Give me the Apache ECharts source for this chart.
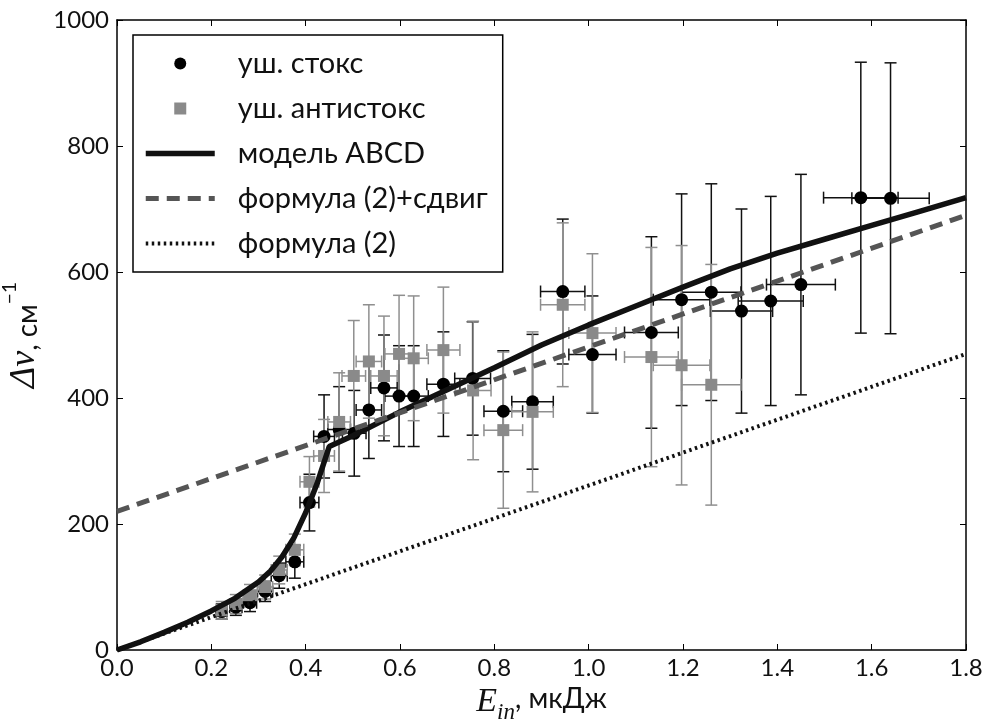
<!DOCTYPE html>
<html>
<head>
<meta charset="utf-8">
<script src="https://cdn.jsdelivr.net/npm/echarts@6/dist/echarts.min.js"></script>
<style>
  html, body { margin: 0; padding: 0; background: #fff; }
  #chart { width: 985px; height: 724px; }
</style>
</head>
<body>
<div id="chart"></div>
<script>
// уш. стокс (black circles)
var stokesX = [0.222, 0.252, 0.282, 0.314, 0.344, 0.377, 0.408, 0.439, 0.471, 0.503, 0.534, 0.566, 0.598, 0.629, 0.692, 0.754, 0.819, 0.881, 0.945, 1.008, 1.133, 1.197, 1.26, 1.324, 1.386, 1.45, 1.577, 1.64];
var stokesY = [61, 68, 75, 93, 118, 140, 234, 339, 350, 344, 381, 416, 403, 403, 422, 431, 379, 394, 569, 469, 504, 556, 568, 538, 554, 580, 718, 717];
var stokesXErr = [0.011, 0.013, 0.014, 0.016, 0.017, 0.019, 0.02, 0.022, 0.024, 0.025, 0.027, 0.028, 0.03, 0.031, 0.035, 0.038, 0.041, 0.044, 0.047, 0.05, 0.057, 0.06, 0.063, 0.066, 0.069, 0.073, 0.079, 0.082];
var stokesYErr = [12, 13, 14, 16, 20, 26, 45, 66, 68, 68, 77, 84, 80, 80, 83, 90, 96, 107, 115, 93, 152, 168, 172, 162, 166, 175, 215, 215];

// уш. антистокс (gray squares)
var antiX = [0.222, 0.252, 0.282, 0.314, 0.344, 0.377, 0.408, 0.439, 0.471, 0.502, 0.534, 0.566, 0.598, 0.629, 0.692, 0.755, 0.819, 0.881, 0.945, 1.008, 1.133, 1.197, 1.26];
var antiY = [63, 73, 87, 100, 127, 159, 267, 308, 362, 435, 458, 435, 470, 463, 476, 412, 349, 378, 548, 503, 465, 452, 421];
var antiXErr = [0.011, 0.013, 0.014, 0.016, 0.017, 0.019, 0.02, 0.022, 0.024, 0.025, 0.027, 0.028, 0.03, 0.031, 0.035, 0.038, 0.041, 0.044, 0.047, 0.05, 0.057, 0.06, 0.063];
var antiYErr = [14, 15, 17, 19, 22, 25, 40, 58, 78, 88, 90, 95, 93, 99, 100, 110, 124, 127, 130, 126, 174, 190, 191];

// модель ABCD
var modelX = [0, 0.05, 0.1, 0.15, 0.2, 0.25, 0.3, 0.325, 0.35, 0.375, 0.4, 0.425, 0.45, 0.5, 0.6, 0.7, 0.8, 0.9, 1.0, 1.1, 1.2, 1.3, 1.4, 1.5, 1.6, 1.7, 1.8];
var modelY = [0, 13, 28, 44, 62, 82, 108, 125, 148, 178, 218, 266, 323, 340, 378, 413, 448, 484, 516, 546, 576, 605, 630, 652, 674, 696, 718];

// формула (2)+сдвиг
var shiftX = [0, 1.8];
var shiftY = [220, 690];

// формула (2)
var formX = [0, 1.8];
var formY = [0, 470];

var FONT = 'Lato, "Noto Sans", sans-serif';
var SERIF = '"Liberation Serif", "DejaVu Serif", serif';

function zip2(xs, ys) { return xs.map(function (x, i) { return [x, ys[i]]; }); }
function zip4(xs, ys, xe, ye) { return xs.map(function (x, i) { return [x, ys[i], xe[i], ye[i]]; }); }

function errorBars(color) {
  return function (params, api) {
    var x = api.value(0), y = api.value(1), dx = api.value(2), dy = api.value(3);
    var top = api.coord([x, y + dy]), bot = api.coord([x, y - dy]);
    var lft = api.coord([x - dx, y]), rgt = api.coord([x + dx, y]);
    var c = 6;
    var st = { stroke: color, lineWidth: 1.5 };
    var seg = function (x1, y1, x2, y2) {
      return { type: 'line', shape: { x1: x1, y1: y1, x2: x2, y2: y2 }, style: st };
    };
    return {
      type: 'group',
      children: [
        seg(top[0], top[1], bot[0], bot[1]),
        seg(top[0] - c, top[1], top[0] + c, top[1]),
        seg(bot[0] - c, bot[1], bot[0] + c, bot[1]),
        seg(lft[0], lft[1], rgt[0], rgt[1]),
        seg(lft[0], lft[1] - c, lft[0], lft[1] + c),
        seg(rgt[0], rgt[1] - c, rgt[0], rgt[1] + c)
      ]
    };
  };
}

var chart = echarts.init(document.getElementById('chart'));
var frameAxis = {
  axisLine: { show: true, onZero: false, lineStyle: { color: '#000', width: 1.5 } },
  axisTick: { show: true, inside: true, length: 6, lineStyle: { color: '#000', width: 1 } },
  splitLine: { show: false }
};
var hideDot = { opacity: 0 };

chart.setOption({
  animation: false,
  backgroundColor: '#fff',
  grid: { left: 117, right: 19, top: 20, bottom: 74, outerBoundsMode: 'none' },
  legend: {
    orient: 'vertical',
    left: 133, top: 35,
    padding: [14, 15, 14, 10],
    itemGap: 16,
    itemWidth: 69,
    itemHeight: 12,
    borderColor: '#000',
    borderWidth: 1.5,
    backgroundColor: '#fff',
    selectedMode: false,
    textStyle: { fontFamily: FONT, fontSize: 29, color: '#111', padding: [0, 0, 0, 18] },
    data: [
      { name: 'уш. стокс', icon: 'circle' },
      { name: 'уш. антистокс', icon: 'path://M0,0h10v10h-10z' },
      { name: 'модель ABCD', itemStyle: hideDot, lineStyle: { color: '#111', width: 5.5, type: 'solid' } },
      { name: 'формула (2)+сдвиг', itemStyle: hideDot, lineStyle: { color: '#555', width: 5, type: [13, 8] } },
      { name: 'формула (2)', itemStyle: hideDot, lineStyle: { color: '#111', width: 4, type: [2.5, 3.5] } }
    ]
  },
  xAxis: [
    Object.assign({
      type: 'value', min: 0, max: 1.8, interval: 0.2, position: 'bottom',
      axisLabel: { fontFamily: FONT, fontSize: 24, color: '#111', margin: 6, formatter: function (v) { return v.toFixed(1); } },
      name: '{e|E}{s|in}{t|, мкДж}',
      nameLocation: 'middle', nameGap: 29,
      nameTextStyle: {
        rich: {
          e: { fontFamily: SERIF, fontStyle: 'italic', fontSize: 34, color: '#111', verticalAlign: 'top', lineHeight: 32 },
          s: { fontFamily: SERIF, fontStyle: 'italic', fontSize: 23, color: '#111', verticalAlign: 'bottom', lineHeight: 40 },
          t: { fontFamily: FONT, fontSize: 28, color: '#111', verticalAlign: 'top', lineHeight: 32 }
        }
      }
    }, frameAxis),
    Object.assign({
      type: 'value', min: 0, max: 1.8, interval: 0.2, position: 'top',
      axisLabel: { show: false }
    }, frameAxis)
  ],
  yAxis: [
    Object.assign({
      type: 'value', min: 0, max: 1000, interval: 200, position: 'left',
      axisLabel: { fontFamily: FONT, fontSize: 24, color: '#111', margin: 8, formatter: function (v) { return String(v); } },
      name: '{d|Δν}{t|, см}{p|−1}',
      nameLocation: 'middle', nameGap: 49, nameRotate: 90,
      nameTextStyle: {
        rich: {
          d: { fontFamily: SERIF, fontStyle: 'italic', fontSize: 36, color: '#111', verticalAlign: 'bottom', lineHeight: 42 },
          t: { fontFamily: FONT, fontSize: 28, color: '#111', verticalAlign: 'bottom', lineHeight: 38 },
          p: { fontFamily: FONT, fontSize: 19, color: '#111', verticalAlign: 'top', lineHeight: 42 }
        }
      }
    }, frameAxis),
    Object.assign({
      type: 'value', min: 0, max: 1000, interval: 200, position: 'right',
      axisLabel: { show: false }
    }, frameAxis)
  ],
  series: [
    {
      name: 'stokes-err', type: 'custom', renderItem: errorBars('#111'),
      encode: { x: 0, y: 1 }, data: zip4(stokesX, stokesY, stokesXErr, stokesYErr), z: 2
    },
    {
      name: 'уш. стокс', type: 'scatter', symbol: 'circle', symbolSize: 13,
      itemStyle: { color: '#000', opacity: 1 }, data: zip2(stokesX, stokesY), z: 2
    },
    {
      name: 'anti-err', type: 'custom', renderItem: errorBars('#8f8f8f'),
      encode: { x: 0, y: 1 }, data: zip4(antiX, antiY, antiXErr, antiYErr), z: 2
    },
    {
      name: 'уш. антистокс', type: 'scatter', symbol: 'rect', symbolSize: 12,
      itemStyle: { color: '#8a8a8a', opacity: 1 }, data: zip2(antiX, antiY), z: 2
    },
    {
      name: 'модель ABCD', type: 'line', symbol: 'none', smooth: false,
      lineStyle: { color: '#111', width: 5.5 }, itemStyle: { color: '#111' },
      data: zip2(modelX, modelY), z: 3
    },
    {
      name: 'формула (2)+сдвиг', type: 'line', symbol: 'none',
      lineStyle: { color: '#555', width: 5, type: [13, 8] }, itemStyle: { color: '#555' },
      data: zip2(shiftX, shiftY), z: 3
    },
    {
      name: 'формула (2)', type: 'line', symbol: 'none',
      lineStyle: { color: '#111', width: 4, type: [2.5, 3.5] }, itemStyle: { color: '#111' },
      data: zip2(formX, formY), z: 3
    }
  ]
});
</script>
</body>
</html>
